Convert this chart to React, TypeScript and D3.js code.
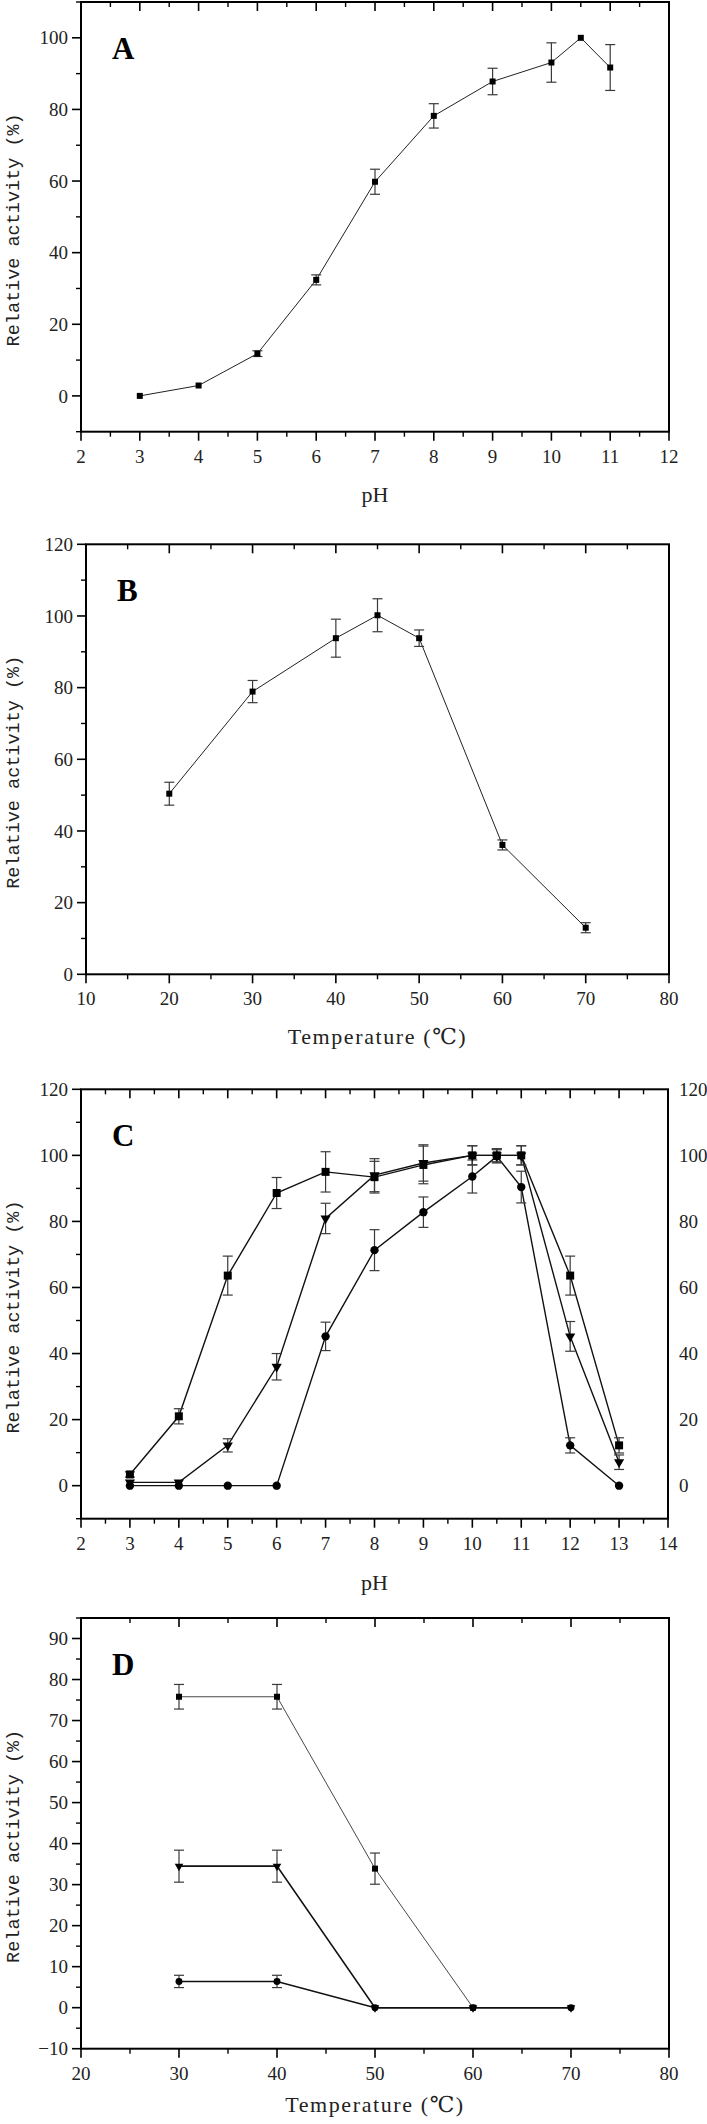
import * as d3 from "d3";
import React from "react";

// panel A: pH profile
const phA = [3, 4, 5, 6, 7, 8, 9, 10, 10.5, 11];
const actA = [0, 2.9, 11.8, 32.4, 59.8, 78.2, 87.8, 93.1, 100, 91.7];
const errA = [0.3, 0.3, 0.8, 1.4, 3.5, 3.4, 3.7, 5.5, 0, 6.4];
const xTicksA = [2, 3, 4, 5, 6, 7, 8, 9, 10, 11, 12];
const yTicksA = [0, 20, 40, 60, 80, 100];

// panel B: temperature profile
const tempB = [20, 30, 40, 45, 50, 60, 70];
const actB = [50.4, 78.9, 93.8, 100.2, 93.8, 36.1, 13.0];
const errB = [3.2, 3.1, 5.3, 4.6, 2.3, 1.4, 1.4];
const xTicksB = [10, 20, 30, 40, 50, 60, 70, 80];
const yTicksB = [0, 20, 40, 60, 80, 100, 120];

// panel C: pH stability
const phC = [3, 4, 5, 6, 7, 8, 9, 10, 10.5, 11, 12, 13];
const actCsq = [3.4, 21.0, 63.6, 88.6, 95.0, 93.4, 97.1, 100, 100, 100, 63.6, 12.2];
const errCsq = [0.8, 2.3, 5.9, 4.7, 6.1, 4.8, 5.7, 2.9, 2, 2.9, 5.9, 2.3];
const actCtri = [1.0, 1.0, 12.2, 36.0, 80.9, 94.0, 97.7, 100, 100, 100, 45.2, 7.1];
const errCtri = [0.5, 0.5, 2.0, 4.0, 4.6, 5.0, 5.5, 2.9, 2, 2.9, 4.5, 2.2];
const actCcir = [0, 0, 0, 0, 45.2, 71.3, 82.8, 93.6, 99.7, 90.4, 12.2, 0];
const errCcir = [0, 0, 0, 0, 4.3, 6.2, 4.6, 5.0, 2.0, 4.8, 2.3, 0];
const xTicksC = [2, 3, 4, 5, 6, 7, 8, 9, 10, 11, 12, 13, 14];
const yTicksC = [0, 20, 40, 60, 80, 100, 120];

// panel D: thermostability
const tempDsq = [30, 40, 50, 60];
const actDsq = [75.8, 75.8, 33.9, 0];
const errDsq = [3, 3, 3.8, 0];
const tempD = [30, 40, 50, 60, 70];
const actDtri = [34.5, 34.5, 0, 0, 0];
const errDtri = [3.9, 3.9, 0, 0, 0];
const actDcir = [6.4, 6.4, 0, 0, 0];
const errDcir = [1.5, 1.5, 0, 0, 0];
const xTicksD = [20, 30, 40, 50, 60, 70, 80];
const yTicksD = [-10, 0, 10, 20, 30, 40, 50, 60, 70, 80, 90];

const tickFont = "'Times New Roman', 'Liberation Serif', 'DejaVu Serif', serif";
const monoFont = "'Courier New', 'Liberation Mono', 'DejaVu Sans Mono', monospace";

type Series = {
  xs: number[],
  ys: number[],
  errs: number[],
  shape: "square" | "triangle" | "circle",
  size: number,
  lineColor: string,
  lineWidth: number
}

type PanelT = {
  letter: string,
  top: number, bottom: number, left: number, right: number,
  xDomain: [number, number], yDomain: [number, number],
  xTicks: number[], yTicks: number[],
  xMinorStep: number, yMinorStep: number,
  xTitle: string, titleGap: number,
  rightLabels?: boolean,
  series: Series[]
}

function Marker({ s, cx, cy }: { s: Series, cx: number, cy: number }) {
  const type = s.shape === "square" ? d3.symbolSquare : s.shape === "circle" ? d3.symbolCircle : d3.symbolTriangle
  const d = d3.symbol().type(type).size(s.size)() || ""
  const rot = s.shape === "triangle" ? " rotate(180)" : ""
  return <path d={d} transform={`translate(${cx},${cy})${rot}`} fill="#000" />
}

function Panel({ p }: { p: PanelT }) {
  const x = d3.scaleLinear().domain(p.xDomain).range([p.left, p.right])
  const y = d3.scaleLinear().domain(p.yDomain).range([p.bottom, p.top])
  const xMinor = d3.range(p.xDomain[0], p.xDomain[1] + 1e-9, p.xMinorStep).filter(v => !p.xTicks.includes(v))
  const yMinor = d3.range(Math.ceil(p.yDomain[0] / p.yMinorStep) * p.yMinorStep, p.yDomain[1] + 1e-9, p.yMinorStep)
    .filter(v => !p.yTicks.includes(v))
  const major = 9, minor = 5

  return (
    <g>
      {/* series lines */}
      {p.series.map((s, k) => {
        const line = d3.line<number>().x((d, i) => x(s.xs[i])).y(d => y(d))
        return <path key={"l" + k} d={line(s.ys) || ""} fill="none" stroke={s.lineColor} strokeWidth={s.lineWidth} />
      })}
      {/* error bars */}
      {p.series.map((s, k) => s.ys.map((v, i) => {
        const e = s.errs[i]
        if (!e || e < 0.6) return null
        const cx = x(s.xs[i]), y0 = y(v - e), y1 = y(v + e)
        return (
          <g key={`e${k}-${i}`} stroke="#3a3a3a" strokeWidth={1.2}>
            <line x1={cx} x2={cx} y1={y0} y2={y1} />
            <line x1={cx - 5} x2={cx + 5} y1={y0} y2={y0} />
            <line x1={cx - 5} x2={cx + 5} y1={y1} y2={y1} />
          </g>
        )
      }))}
      {/* markers */}
      {p.series.map((s, k) => s.ys.map((v, i) => <Marker key={`m${k}-${i}`} s={s} cx={x(s.xs[i])} cy={y(v)} />))}

      {/* frame */}
      <rect x={p.left} y={p.top} width={p.right - p.left} height={p.bottom - p.top} fill="none" stroke="#000" strokeWidth={2} />

      {/* x ticks: outward at bottom, inward at top */}
      {p.xTicks.map(t => (
        <g key={"xt" + t} stroke="#000" strokeWidth={1.6}>
          <line x1={x(t)} x2={x(t)} y1={p.bottom} y2={p.bottom + major} />
          <line x1={x(t)} x2={x(t)} y1={p.top} y2={p.top + major} />
        </g>
      ))}
      {xMinor.map(t => (
        <g key={"xm" + t} stroke="#000" strokeWidth={1.4}>
          <line x1={x(t)} x2={x(t)} y1={p.bottom} y2={p.bottom + minor} />
          <line x1={x(t)} x2={x(t)} y1={p.top} y2={p.top + minor} />
        </g>
      ))}
      {p.xTicks.map(t => (
        <text key={"xl" + t} x={x(t)} y={p.bottom + 31} textAnchor="middle" fontFamily={tickFont} fontSize={19} fill="#222">{t}</text>
      ))}

      {/* y ticks: outward at left */}
      {p.yTicks.map(t => (
        <line key={"yt" + t} x1={p.left - major} x2={p.left} y1={y(t)} y2={y(t)} stroke="#000" strokeWidth={1.6} />
      ))}
      {yMinor.map(t => (
        <line key={"ym" + t} x1={p.left - minor} x2={p.left} y1={y(t)} y2={y(t)} stroke="#000" strokeWidth={1.4} />
      ))}
      {p.yTicks.map(t => (
        <text key={"yl" + t} x={p.left - 13} y={y(t)} dy="0.35em" textAnchor="end" fontFamily={tickFont} fontSize={19} fill="#222">
          {t < 0 ? "\u2212" + Math.abs(t) : t}
        </text>
      ))}
      {p.rightLabels && p.yTicks.map(t => (
        <text key={"yr" + t} x={p.right + 11} y={y(t)} dy="0.35em" textAnchor="start" fontFamily={tickFont} fontSize={19} fill="#222">{t}</text>
      ))}

      {/* titles */}
      <text x={(p.left + p.right) / 2} y={p.bottom + 31 + p.titleGap} textAnchor="middle" fontFamily={tickFont} fontSize={22}
        letterSpacing={p.xTitle.length > 3 ? 1.6 : 0} fill="#222">{p.xTitle}</text>
      <text transform={`translate(19,${(p.top + p.bottom) / 2 + 13}) rotate(-90)`} textAnchor="middle" fontFamily={monoFont}
        fontSize={18.5} fill="#222">Relative activity (%)</text>
      <text x={p.left + 31} y={p.top + 57} fontFamily={tickFont} fontWeight="bold" fontSize={31} fill="#000">{p.letter}</text>
    </g>
  )
}

const panels: PanelT[] = [
  {
    letter: "A", top: 2, bottom: 431.7, left: 81, right: 669,
    xDomain: [2, 12], yDomain: [-10, 110], xTicks: xTicksA, yTicks: yTicksA, xMinorStep: 0.5, yMinorStep: 10,
    xTitle: "pH", titleGap: 39,
    series: [{ xs: phA, ys: actA, errs: errA, shape: "square", size: 36, lineColor: "#222", lineWidth: 1 }]
  },
  {
    letter: "B", top: 544.3, bottom: 974.3, left: 86, right: 669,
    xDomain: [10, 80], yDomain: [0, 120], xTicks: xTicksB, yTicks: yTicksB, xMinorStep: 5, yMinorStep: 10,
    xTitle: "Temperature (\u2103)", titleGap: 39,
    series: [{ xs: tempB, ys: actB, errs: errB, shape: "square", size: 36, lineColor: "#222", lineWidth: 1 }]
  },
  {
    letter: "C", top: 1089.3, bottom: 1518.7, left: 81, right: 668,
    xDomain: [2, 14], yDomain: [-10, 120], xTicks: xTicksC, yTicks: yTicksC, xMinorStep: 0.5, yMinorStep: 10,
    xTitle: "pH", titleGap: 40, rightLabels: true,
    series: [
      { xs: phC, ys: actCsq, errs: errCsq, shape: "square", size: 64, lineColor: "#111", lineWidth: 1.4 },
      { xs: phC, ys: actCtri, errs: errCtri, shape: "triangle", size: 45, lineColor: "#111", lineWidth: 1.4 },
      { xs: phC, ys: actCcir, errs: errCcir, shape: "circle", size: 55, lineColor: "#111", lineWidth: 1.4 }
    ]
  },
  {
    letter: "D", top: 1618, bottom: 2048.7, left: 81, right: 669,
    xDomain: [20, 80], yDomain: [-10, 95], xTicks: xTicksD, yTicks: yTicksD, xMinorStep: 5, yMinorStep: 5,
    xTitle: "Temperature (\u2103)", titleGap: 32,
    series: [
      { xs: tempDsq, ys: actDsq, errs: errDsq, shape: "square", size: 36, lineColor: "#333", lineWidth: 0.9 },
      { xs: tempD, ys: actDtri, errs: errDtri, shape: "triangle", size: 32, lineColor: "#111", lineWidth: 1.6 },
      { xs: tempD, ys: actDcir, errs: errDcir, shape: "circle", size: 38, lineColor: "#111", lineWidth: 1.6 }
    ]
  }
]

export default function App() {
  return (
    <svg width={707} height={2124} style={{ position: "absolute", left: 0, top: 0, background: "#fff", display: "block" }}>
      {panels.map(p => <Panel key={p.letter} p={p} />)}
    </svg>
  )
}
